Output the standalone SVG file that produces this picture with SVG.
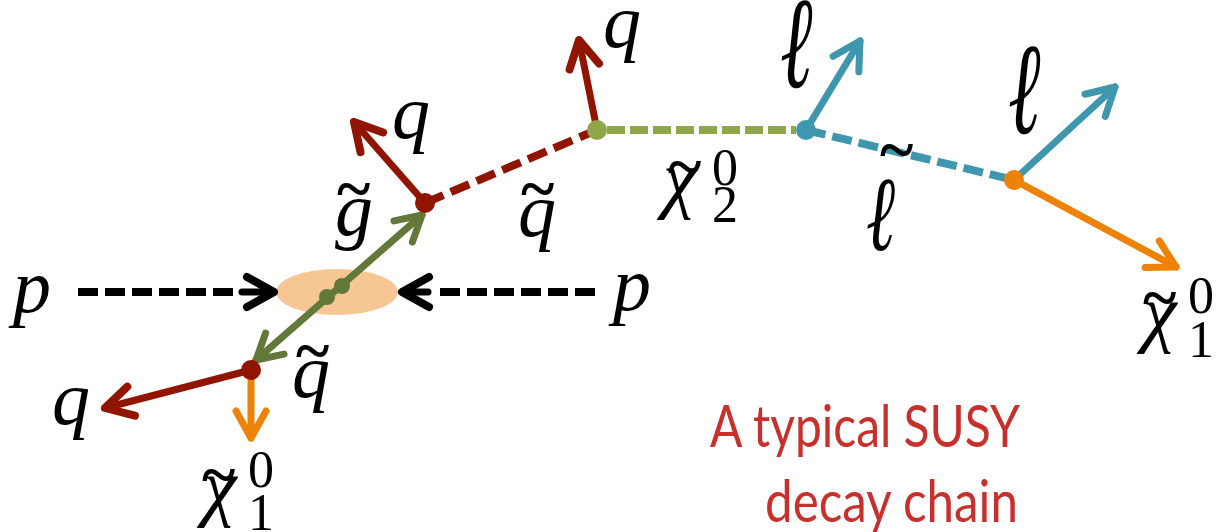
<svg xmlns="http://www.w3.org/2000/svg" width="1217" height="532" viewBox="0 0 1217 532">
<style>
.m{font-family:"Liberation Serif","DejaVu Serif",serif;font-style:italic;font-size:76px;fill:#000}
.l{font-family:"DejaVu Serif",serif;font-style:italic;font-size:130px;fill:#000}
.d{font-family:"Liberation Serif","DejaVu Serif",serif;font-style:normal;font-size:52px;fill:#000}
.t{font-family:"Liberation Serif","DejaVu Serif",serif;font-style:normal;font-weight:bold;font-size:64px;fill:#000}
.cap{font-family:Lato,"Open Sans","Liberation Sans",sans-serif;font-size:59px;fill:#C8302B}
.sol{fill:none;stroke-linecap:round;stroke-width:7}
.dash{fill:none;stroke-width:8}
</style>
<defs>
<marker id="ak" markerUnits="userSpaceOnUse" orient="auto" overflow="visible" markerWidth="1" markerHeight="1"><path d="M-27,-15 L0,0 L-27,15" fill="none" stroke="#000" stroke-width="8" stroke-linecap="round" stroke-linejoin="round"/></marker>
<marker id="ar" markerUnits="userSpaceOnUse" orient="auto" overflow="visible" markerWidth="1" markerHeight="1"><path d="M-27,-15 L0,0 L-27,15" fill="none" stroke="#911400" stroke-width="8" stroke-linecap="round" stroke-linejoin="round"/></marker>
<marker id="ag" markerUnits="userSpaceOnUse" orient="auto-start-reverse" overflow="visible" markerWidth="1" markerHeight="1"><path d="M-25,-14 L0,0 L-25,14" fill="none" stroke="#62793A" stroke-width="7" stroke-linecap="round" stroke-linejoin="round"/></marker>
<marker id="ab" markerUnits="userSpaceOnUse" orient="auto" overflow="visible" markerWidth="1" markerHeight="1"><path d="M-27,-15 L0,0 L-27,15" fill="none" stroke="#3F97AD" stroke-width="7" stroke-linecap="round" stroke-linejoin="round"/></marker>
<marker id="ao" markerUnits="userSpaceOnUse" orient="auto" overflow="visible" markerWidth="1" markerHeight="1"><path d="M-27,-15 L0,0 L-27,15" fill="none" stroke="#EE8206" stroke-width="7" stroke-linecap="round" stroke-linejoin="round"/></marker>
</defs>

<g id="collision">
<ellipse cx="337" cy="292" rx="61" ry="23" fill="#F6C794"/>
</g>

<g id="connectors">
<path class="dash" d="M78,292 H236" stroke="#000" stroke-dasharray="20 7"/>
<path class="sol" d="M242,292 H274" stroke="#000" stroke-width="8" marker-end="url(#ak)"/>
<path class="dash" d="M595,292 H434" stroke="#000" stroke-dasharray="20 7"/>
<path class="sol" d="M428,292 H402" stroke="#000" stroke-width="8" marker-end="url(#ak)"/>
<path class="sol" d="M256,360 L422,215" stroke="#62793A" marker-start="url(#ag)" marker-end="url(#ag)"/>
<path class="sol" d="M251,370 L105,408" stroke="#911400" stroke-width="8" marker-end="url(#ar)"/>
<path class="sol" d="M251,376 L251,438" stroke="#EE8206" marker-end="url(#ao)"/>
<path class="sol" d="M425,203 L354,122" stroke="#911400" stroke-width="8" marker-end="url(#ar)"/>
<path class="dash" d="M425,203 L592,132" stroke="#911400" stroke-dasharray="20 8"/>
<path class="sol" d="M597,130 L579,40" stroke="#911400" stroke-width="8" marker-end="url(#ar)"/>
<path class="dash" d="M607,130 H796" stroke="#8FA64B" stroke-width="9" stroke-dasharray="18 5"/>
<path class="sol" d="M806,130 L860,41" stroke="#3F97AD" marker-end="url(#ab)"/>
<path class="dash" d="M806,130 L1014,180" stroke="#3F97AD" stroke-dasharray="20 7"/>
<path class="sol" d="M1014,180 L1115,87" stroke="#3F97AD" marker-end="url(#ab)"/>
<path class="sol" d="M1014,180 L1176,267" stroke="#EE8206" marker-end="url(#ao)"/>
</g>

<g id="vertex-collision"><circle cx="327" cy="297" r="8" fill="#62793A"/><circle cx="342" cy="286" r="8" fill="#62793A"/></g>
<g id="vertex-squark-low"><circle cx="251" cy="370" r="10" fill="#911400"/></g>
<g id="vertex-gluino"><circle cx="425" cy="203" r="10" fill="#911400"/></g>
<g id="vertex-squark"><circle cx="597" cy="130" r="10" fill="#8FA64B"/></g>
<g id="vertex-chi2"><circle cx="806" cy="130" r="10" fill="#3F97AD"/></g>
<g id="vertex-slepton"><circle cx="1014" cy="180" r="10" fill="#EE8206"/></g>

<g id="labels">
<text class="m" x="13" y="312">p</text>
<text class="m" x="613" y="310">p</text>
<text class="m" x="52" y="424">q</text>
<text class="m" x="392" y="138">q</text>
<text class="m" x="603" y="47">q</text>
<text id="label-gluino" class="m" x="335" y="235">g<tspan class="t" x="337" y="210">~</tspan></text>
<text id="label-squark-mid" class="m" x="518" y="236">q<tspan class="t" x="521" y="210">~</tspan></text>
<text id="label-squark-low" class="m" x="292" y="397">q<tspan class="t" x="296" y="372">~</tspan></text>
<text id="label-chi2" class="m" x="663" y="204">χ<tspan class="d" x="712" y="185">0</tspan><tspan class="d" x="712" y="222">2</tspan><tspan class="t" x="668" y="188">~</tspan></text>
<g id="label-slepton"><text class="t" x="880" y="171">~</text><text class="l" style="font-size:106px" transform="translate(866,250) scale(0.66,1)">ℓ</text></g>
<text class="l" transform="translate(780,87) scale(0.6,1)">ℓ</text>
<text class="l" transform="translate(1008,133) scale(0.6,1)">ℓ</text>
<text id="label-chi1-right" class="m" x="1143" y="338">χ<tspan class="d" x="1188" y="313">0</tspan><tspan class="d" x="1188" y="357">1</tspan><tspan class="t" x="1143" y="319">~</tspan></text>
<text id="label-chi1-low" class="m" x="203" y="512">χ<tspan class="d" x="248" y="487">0</tspan><tspan class="d" x="248" y="530">1</tspan><tspan class="t" x="202" y="496">~</tspan></text>
</g>

<g id="caption">
<text class="cap" x="710" y="447" textLength="310" lengthAdjust="spacingAndGlyphs">A typical SUSY</text>
<text class="cap" x="765" y="522" textLength="253" lengthAdjust="spacingAndGlyphs">decay chain</text>
</g>
</svg>
